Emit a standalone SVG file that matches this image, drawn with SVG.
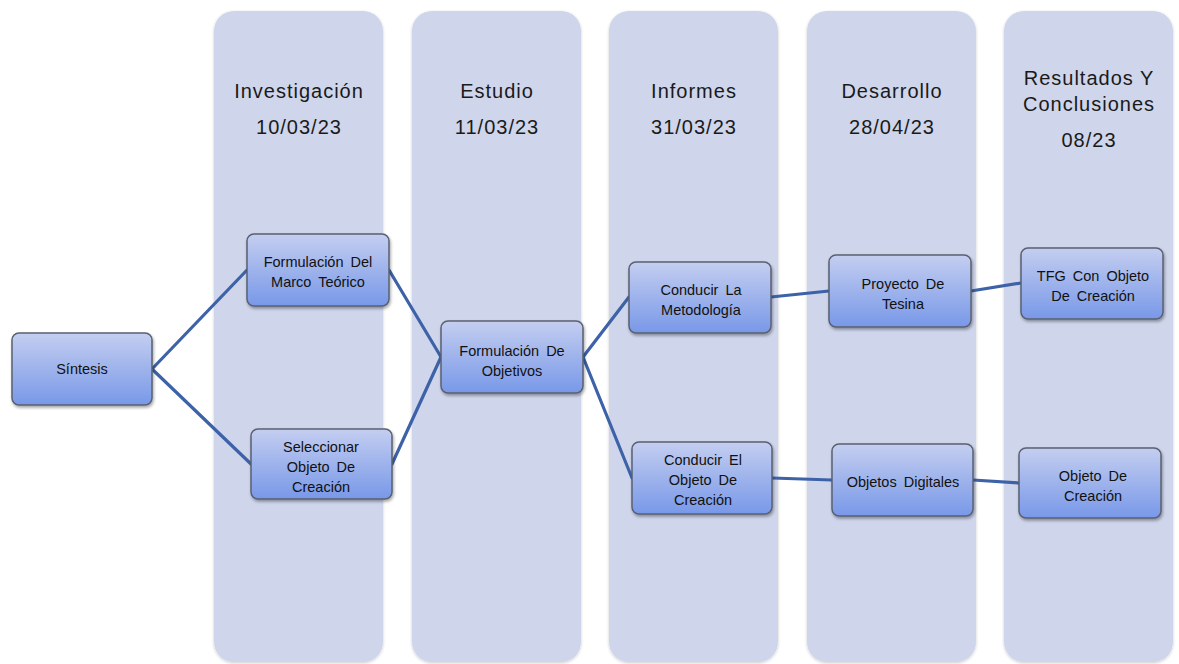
<svg xmlns="http://www.w3.org/2000/svg" width="1179" height="664" viewBox="0 0 1179 664">
<defs>
<linearGradient id="ng" x1="0" y1="0" x2="0" y2="1">
<stop offset="0" stop-color="#c4cef0"/>
<stop offset="1" stop-color="#7898e8"/>
</linearGradient>
<filter id="sh" x="-10%" y="-10%" width="130%" height="140%">
<feDropShadow dx="1" dy="2" stdDeviation="1.5" flood-color="#000" flood-opacity="0.35"/>
</filter>
<filter id="csh" x="-5%" y="-5%" width="110%" height="110%">
<feDropShadow dx="0" dy="1" stdDeviation="1.5" flood-color="#000" flood-opacity="0.2"/>
</filter>
</defs>
<style>
.col{fill:#cfd5eb;filter:url(#csh)}
.hd{font-family:"Liberation Sans",Arial,sans-serif;font-size:20px;fill:#1a1a1a;text-anchor:middle;letter-spacing:1px}
.nd{fill:url(#ng);stroke:#5a6070;stroke-width:1.5;filter:url(#sh)}
.nt{font-family:"Liberation Sans",Arial,sans-serif;font-size:14.5px;fill:#111;text-anchor:middle;word-spacing:3px}
.cn{stroke:#3d62a8;stroke-width:3.2;fill:none;stroke-linecap:round}
</style>
<rect width="1179" height="664" fill="#fff"/>
<g id="columns">
<g id="col-investigacion"><rect class="col" x="214" y="11" width="169" height="651" rx="20"/>
<text class="hd" x="299" y="98">Investigación</text><text class="hd" x="299" y="134">10/03/23</text></g>
<g id="col-estudio"><rect class="col" x="412" y="11" width="169" height="651" rx="20"/>
<text class="hd" x="497" y="98">Estudio</text><text class="hd" x="497" y="134">11/03/23</text></g>
<g id="col-informes"><rect class="col" x="609" y="11" width="169" height="651" rx="20"/>
<text class="hd" x="694" y="98">Informes</text><text class="hd" x="694" y="134">31/03/23</text></g>
<g id="col-desarrollo"><rect class="col" x="807" y="11" width="169" height="651" rx="20"/>
<text class="hd" x="892" y="98">Desarrollo</text><text class="hd" x="892" y="134">28/04/23</text></g>
<g id="col-resultados"><rect class="col" x="1004" y="11" width="169" height="651" rx="20"/>
<text class="hd" x="1089" y="85">Resultados Y</text><text class="hd" x="1089" y="111">Conclusiones</text><text class="hd" x="1089" y="147">08/23</text></g>
</g>
<g id="connectors">
<line class="cn" x1="152" y1="369" x2="247" y2="270"/>
<line class="cn" x1="152" y1="369" x2="251" y2="464"/>
<line class="cn" x1="389" y1="270" x2="441" y2="357"/>
<line class="cn" x1="392" y1="464" x2="441" y2="357"/>
<line class="cn" x1="583" y1="357" x2="629" y2="297"/>
<line class="cn" x1="583" y1="357" x2="632" y2="478"/>
<line class="cn" x1="771" y1="297" x2="829" y2="291"/>
<line class="cn" x1="971" y1="291" x2="1021" y2="283"/>
<line class="cn" x1="772" y1="478" x2="832" y2="480"/>
<line class="cn" x1="973" y1="480" x2="1019" y2="483"/>
</g>
<g id="n-sintesis"><rect class="nd" x="12" y="333" width="140" height="72" rx="7"/>
<text class="nt" x="82" y="374">Síntesis</text></g>
<g id="n-marco"><rect class="nd" x="247" y="234" width="142" height="72" rx="7"/>
<text class="nt" x="318" y="267">Formulación Del</text><text class="nt" x="318" y="287">Marco Teórico</text></g>
<g id="n-seleccionar"><rect class="nd" x="251" y="429" width="141" height="70" rx="7"/>
<text class="nt" x="321" y="452">Seleccionar</text><text class="nt" x="321" y="472">Objeto De</text><text class="nt" x="321" y="492">Creación</text></g>
<g id="n-objetivos"><rect class="nd" x="441" y="321" width="142" height="72" rx="7"/>
<text class="nt" x="512" y="356">Formulación De</text><text class="nt" x="512" y="376">Objetivos</text></g>
<g id="n-metodologia"><rect class="nd" x="629" y="262" width="142" height="71" rx="7"/>
<text class="nt" x="701" y="295">Conducir La</text><text class="nt" x="701" y="315">Metodología</text></g>
<g id="n-conducir-objeto"><rect class="nd" x="632" y="442" width="140" height="72" rx="7"/>
<text class="nt" x="703" y="465">Conducir El</text><text class="nt" x="703" y="485">Objeto De</text><text class="nt" x="703" y="505">Creación</text></g>
<g id="n-tesina"><rect class="nd" x="829" y="255" width="142" height="72" rx="7"/>
<text class="nt" x="903" y="289">Proyecto De</text><text class="nt" x="903" y="309">Tesina</text></g>
<g id="n-digitales"><rect class="nd" x="832" y="444" width="141" height="72" rx="7"/>
<text class="nt" x="903" y="487">Objetos Digitales</text></g>
<g id="n-tfg"><rect class="nd" x="1021" y="248" width="142" height="71" rx="7"/>
<text class="nt" x="1093" y="281">TFG Con Objeto</text><text class="nt" x="1093" y="301">De Creación</text></g>
<g id="n-objeto-creacion"><rect class="nd" x="1019" y="448" width="142" height="70" rx="7"/>
<text class="nt" x="1093" y="481">Objeto De</text><text class="nt" x="1093" y="501">Creación</text></g>
</svg>
